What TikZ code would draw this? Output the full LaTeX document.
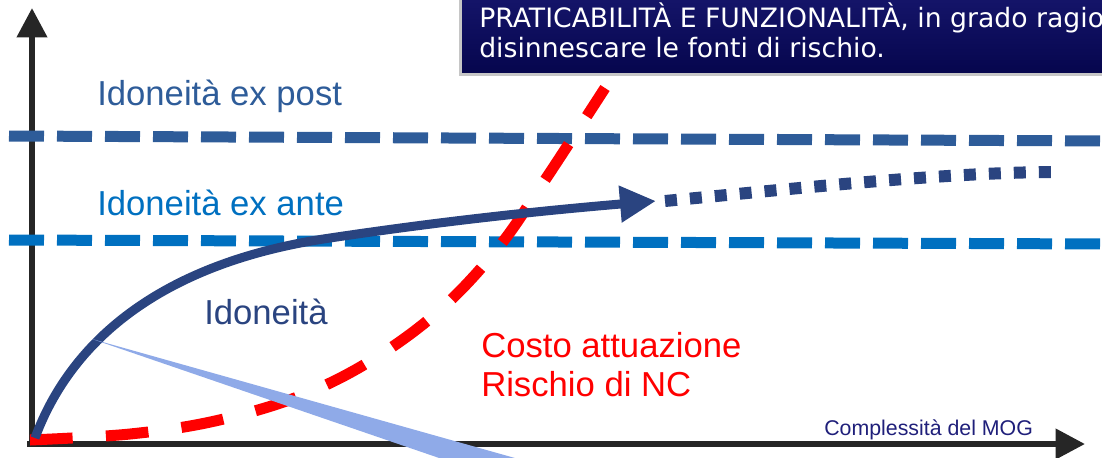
\documentclass[tikz,border=0pt]{standalone}
\usepackage{fontspec}
\setmainfont{Liberation Sans}
\newfontfamily\notefont{DejaVu Sans}
\usetikzlibrary{calc,arrows.meta}
\definecolor{postblue}{HTML}{2E5C99}
\definecolor{anteblue}{HTML}{0070C0}
\definecolor{idonavy}{HTML}{2A4480}
\definecolor{wedgeblue}{HTML}{8FAAE8}
\definecolor{notetop}{HTML}{16166C}
\definecolor{notebot}{HTML}{06064E}
\definecolor{mognavy}{HTML}{1F1F7A}
\definecolor{axisgray}{HTML}{262626}
\tikzset{
  axis/.style={ % the two axes
    draw=axisgray, line width=4.5pt,
    -{Triangle[length=22pt,width=22pt]}
  },
  level/.style={ % dashed horizontal thresholds
    line width=8.25pt, dash pattern=on 26.25pt off 9.75pt
  },
  cost/.style={ % red dashed cost curve
    draw=red, line width=8.25pt, dash pattern=on 32pt off 25pt
  },
  bigtext/.style={
    font=\fontsize{26}{30}\selectfont, inner sep=0pt, anchor=base west
  },
  notetext/.style={
    font=\notefont\fontsize{20}{22}\selectfont, text=white,
    inner sep=0pt, anchor=base west
  }
}
\begin{document}
\begin{tikzpicture}[x=0.75pt,y=-0.75pt]
    \useasboundingbox (0,0) rectangle (1102,457);
    \clip (0,0) rectangle (1102,457);

    % axes
    \coordinate (origin) at (32,444);
    \coordinate (ytop) at (32,8);
    \coordinate (xend) at (1085,444);
    \draw[axis] ($(origin)+(0,3)$) -- (ytop);
    \draw[axis] ($(origin)+(-5,0)$) -- (xend);

    % thresholds
    \draw[level, postblue] (9,136) -- (1110,141);
    \draw[level, anteblue] (9,240) -- (1110,244);

    % cost / risk curve
    \draw[cost] plot[smooth, tension=0.6] coordinates {
      (30,440) (130,434) (215,421) (300,396) (372,360)
      (440,310) (498,248) (545,180) (605,88)};

    % suitability curve
    \coordinate (idon_mid) at (330,238);
    \coordinate (idon_tip) at (656,201);
    \draw[idonavy, line width=6.75pt, -{Triangle[length=27pt,width=26pt]}]
      (35,438) .. controls (72,338) and (165,262) .. (idon_mid)
      .. controls (450,220) and (550,210) .. (idon_tip);
    \draw[idonavy, line width=9pt, dash pattern=on 9pt off 9.75pt]
      (665,201) .. controls (800,188) and (950,172) .. (1058,172);

    % light wedge
    \fill[wedgeblue] (92,339) -- (522,460) -- (445,460) -- cycle;

    % labels
    \node[bigtext, text=postblue] (expost_label) at (97,105) {Idoneità ex post};
    \node[bigtext, text=anteblue] (exante_label) at (97,215) {Idoneità ex ante};
    \node[bigtext, text=idonavy] (idon_label) at (204,324) {Idoneità};
    \node[bigtext, text=red] (costo_label) at (481,357) {Costo attuazione};
    \node[bigtext, text=red] (rischio_label) at (481,396) {Rischio di NC};
    \node[inner sep=0pt, anchor=base west, text=mognavy,
      font=\fontsize{16}{18}\selectfont] (mog_label) at (824,435) {Complessità del MOG};

    % note box at the top
    \fill[gray!45] (459,-10) rectangle (1110,76);
    \shade[top color=notetop, bottom color=notebot] (462,-10) rectangle (1110,72);
    \node[notetext] (note_one) at (479,27) {PRATICABILITÀ E FUNZIONALITÀ, in grado ragion};
    \node[notetext] (note_two) at (479,57) {disinnescare le fonti di rischio.};
\end{tikzpicture}
\end{document}
